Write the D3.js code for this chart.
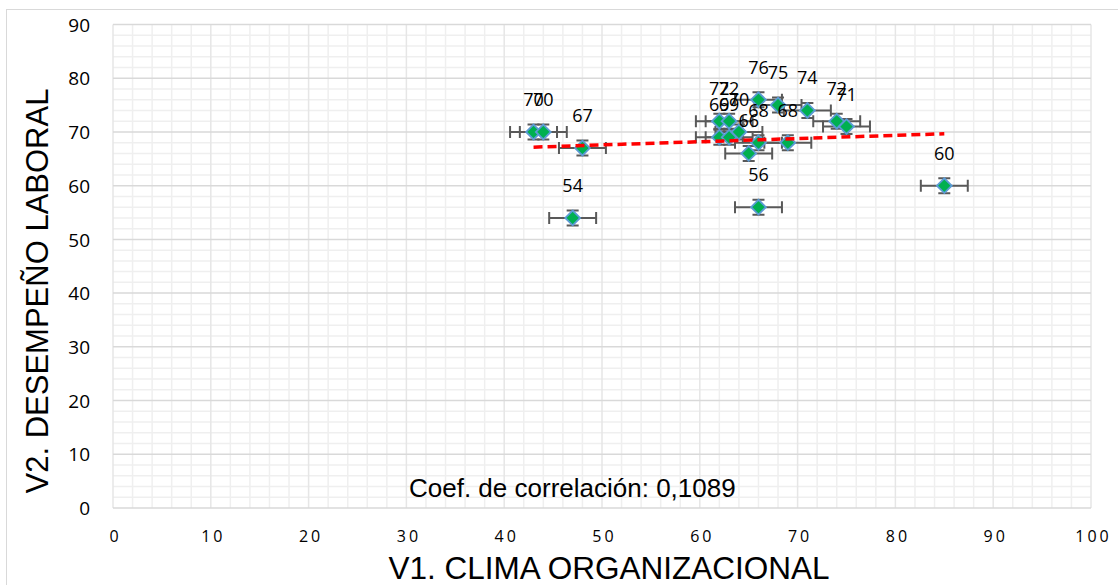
<!DOCTYPE html>
<html>
<head>
<meta charset="utf-8">
<script src="https://cdn.jsdelivr.net/npm/d3@7"></script>
<style>
  body { margin: 0; background: #fff; }
  svg { display: block; }
</style>
</head>
<body>
<svg id="chart" width="1118" height="585"></svg>
<script>
// V1 clima organizacional (x) vs V2 desempeño laboral (y)
const clima =     [43, 44, 48, 47, 62, 63, 62, 63, 64, 66, 68, 71, 74, 75, 66, 69, 65, 66, 85];
const desempeno = [70, 70, 67, 54, 72, 72, 69, 69, 70, 76, 75, 74, 72, 71, 68, 68, 66, 56, 60];

const xTicks = [0, 10, 20, 30, 40, 50, 60, 70, 80, 90, 100];
const yTicks = [0, 10, 20, 30, 40, 50, 60, 70, 80, 90];

// error bar amounts (fixed value, axis units)
const errX = 2.4;
const errY = 1.4;

const xTitle = "V1. CLIMA ORGANIZACIONAL";
const yTitle = "V2. DESEMPEÑO LABORAL";
const coefText = "Coef. de correlación: 0,1089";

const svg = d3.select("#chart");
const W = 1118, H = 585;
const plot = { left: 113, top: 24.5, right: 1091, bottom: 508 };

svg.append("rect").attr("width", W).attr("height", H).attr("fill", "#fff");

// outer chart frame (only left/top visible)
svg.append("rect")
  .attr("x", 6.5).attr("y", 9.5)
  .attr("width", W + 20).attr("height", H + 20)
  .attr("fill", "none").attr("stroke", "#d9d9d9").attr("stroke-width", 1);

const x = d3.scaleLinear().domain([0, 100]).range([plot.left, plot.right]);
const y = d3.scaleLinear().domain([0, 90]).range([plot.bottom, plot.top]);

const g = svg.append("g");

// minor grid every 2 units
g.append("g").selectAll("line")
  .data(d3.range(0, 101, 2).filter((v) => v % 10 !== 0))
  .enter().append("line")
  .attr("x1", (d) => x(d)).attr("x2", (d) => x(d))
  .attr("y1", plot.top).attr("y2", plot.bottom)
  .attr("stroke", "#efefef").attr("stroke-width", 1.5);

g.append("g").selectAll("line")
  .data(d3.range(0, 91, 2).filter((v) => v % 10 !== 0))
  .enter().append("line")
  .attr("y1", (d) => y(d)).attr("y2", (d) => y(d))
  .attr("x1", plot.left).attr("x2", plot.right)
  .attr("stroke", "#efefef").attr("stroke-width", 1.5);

// major grid
g.append("g").selectAll("line")
  .data(xTicks)
  .enter().append("line")
  .attr("x1", (d) => x(d)).attr("x2", (d) => x(d))
  .attr("y1", plot.top).attr("y2", plot.bottom)
  .attr("stroke", "#e6e6e6").attr("stroke-width", 1.5);

g.append("g").selectAll("line")
  .data(yTicks)
  .enter().append("line")
  .attr("y1", (d) => y(d)).attr("y2", (d) => y(d))
  .attr("x1", plot.left).attr("x2", plot.right)
  .attr("stroke", "#d9d9d9").attr("stroke-width", 1.5);

// axes (labels only)
const xAxis = d3.axisBottom(x).tickValues(xTicks).tickSize(0).tickPadding(0);
svg.append("g")
  .attr("transform", `translate(0,${plot.bottom})`)
  .call(xAxis)
  .call((a) => a.select(".domain").remove())
  .selectAll("text")
  .attr("y", 34)
  .attr("dy", 0)
  .attr("dx", "2px")
  .attr("fill", "#000")
  .attr("font-family", "'Open Sans', sans-serif")
  .attr("font-size", "16px")
  .attr("letter-spacing", "3px");

const yAxis = d3.axisLeft(y).tickValues(yTicks).tickSize(0).tickPadding(0);
svg.append("g")
  .attr("transform", `translate(${plot.left},0)`)
  .call(yAxis)
  .call((a) => a.select(".domain").remove())
  .selectAll("text")
  .attr("x", -23)
  .attr("dy", "0.35em")
  .attr("fill", "#000")
  .attr("font-family", "'Open Sans', sans-serif")
  .attr("font-size", "19px");

const pts = clima.map((cx, i) => ({ x: cx, y: desempeno[i] }));

// error bars
const eb = g.append("g").attr("stroke", "#595959").attr("stroke-width", 2).attr("fill", "none");
pts.forEach((p) => {
  const px = x(p.x), py = y(p.y);
  const xl = x(p.x - errX), xr = x(p.x + errX);
  const yt = y(p.y + errY), yb = y(p.y - errY);
  eb.append("path").attr("d",
    `M${xl},${py}H${xr}M${xl},${py - 6}V${py + 6}M${xr},${py - 6}V${py + 6}` +
    `M${px},${yt}V${yb}M${px - 6},${yt}H${px + 6}M${px - 6},${yb}H${px + 6}`);
});

// markers
const diamond = d3.symbol().type(d3.symbolDiamond2).size(140);
g.append("g").selectAll("path")
  .data(pts)
  .enter().append("path")
  .attr("d", diamond)
  .attr("transform", (d) => `translate(${x(d.x)},${y(d.y)})`)
  .attr("fill", "#00b050")
  .attr("stroke", "#5b9bd5")
  .attr("stroke-width", 1.8);

// linear trendline from the data
const mx = d3.mean(clima), my = d3.mean(desempeno);
const sxy = d3.sum(clima, (v, i) => (v - mx) * (desempeno[i] - my));
const sxx = d3.sum(clima, (v) => (v - mx) * (v - mx));
const slope = sxy / sxx;
const icpt = my - slope * mx;
const [x0, x1] = d3.extent(clima);
g.append("line")
  .attr("x1", x(x0)).attr("y1", y(icpt + slope * x0))
  .attr("x2", x(x1)).attr("y2", y(icpt + slope * x1))
  .attr("stroke", "#ff0000")
  .attr("stroke-width", 3.5)
  .attr("stroke-dasharray", "9,5");

// data labels
g.append("g").selectAll("text")
  .data(pts)
  .enter().append("text")
  .attr("x", (d) => x(d.x))
  .attr("y", (d) => y(d.y) - 26)
  .attr("text-anchor", "middle")
  .attr("fill", "#000")
  .attr("font-family", "'Open Sans', sans-serif")
  .attr("font-size", "18px")
  .text((d) => d.y);

// correlation note
svg.append("text")
  .attr("x", 409).attr("y", 497)
  .attr("fill", "#000")
  .attr("font-family", "'Liberation Sans', Arial, sans-serif")
  .attr("font-size", "26px")
  .text(coefText);

// axis titles
svg.append("text")
  .attr("x", 609).attr("y", 579)
  .attr("text-anchor", "middle")
  .attr("fill", "#000")
  .attr("font-family", "'Liberation Sans', Arial, sans-serif")
  .attr("font-size", "31.5px")
  .text(xTitle);

svg.append("text")
  .attr("transform", "translate(48,291) rotate(-90)")
  .attr("text-anchor", "middle")
  .attr("fill", "#000")
  .attr("font-family", "'Liberation Sans', Arial, sans-serif")
  .attr("font-size", "31px")
  .text(yTitle);
</script>
</body>
</html>
